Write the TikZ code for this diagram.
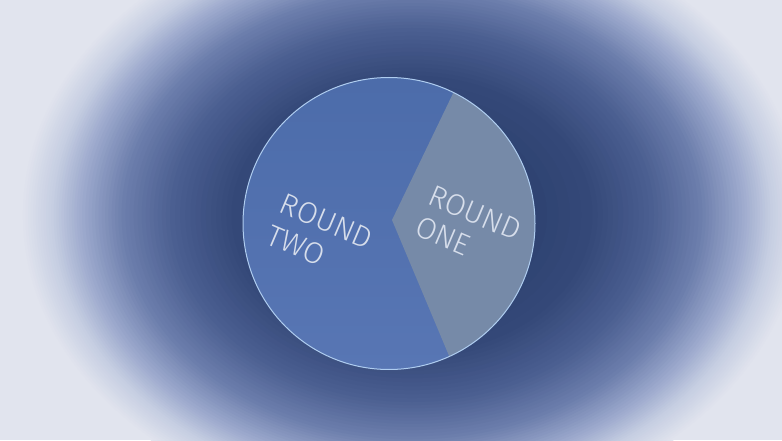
\documentclass[tikz,border=0pt]{standalone}
\usepackage{fontspec}
\usetikzlibrary{calc}
\newfontfamily\roundfont{Fira Sans Light}
\definecolor{bgA}{RGB}{225,228,238}
\definecolor{bgB}{RGB}{198,206,226}
\definecolor{bgC}{RGB}{155,168,204}
\definecolor{bgD}{RGB}{108,126,172}
\definecolor{bgE}{RGB}{75,95,145}
\definecolor{bgF}{RGB}{52,72,120}
\definecolor{bgG}{RGB}{38,58,102}
\definecolor{discblue}{RGB}{76,108,170}
\definecolor{discbluelow}{RGB}{88,118,180}
\definecolor{wedgegray}{RGB}{118,138,168}
\definecolor{rimblue}{RGB}{175,205,240}
\definecolor{labelwhite}{RGB}{215,222,235}
\tikzset{
  roundlabel/.style={inner sep=0pt, anchor=north west, rotate=-23,
    align=left, text=labelwhite,
    font=\roundfont\fontsize{30}{34}\selectfont},
}
\begin{document}
\begin{tikzpicture}[x=1pt,y=1pt]
\useasboundingbox (0,0) rectangle (782,440);
\clip (0,0) rectangle (782,440);
\fill[bgA] (0,0) rectangle (782,440);
\coordinate (bgc) at (412,225);
\foreach \ta/\tb/\ca/\cb in {0.89/0.82/bgA/bgB, 0.82/0.75/bgB/bgC, 0.75/0.66/bgC/bgD, 0.66/0.55/bgD/bgE, 0.55/0.41/bgE/bgF, 0.41/0.10/bgF/bgG}{
  \foreach \k in {0,...,11}{
    \pgfmathsetmacro{\t}{\ta+(\tb-\ta)*\k/12}
    \pgfmathsetmacro{\p}{100*\k/12}
    \fill[\cb!\p!\ca] (bgc) ellipse [x radius=440*\t, y radius=340*\t];
  }
}
\coordinate (c) at (389,216.5);
\coordinate (v) at (392,220);
\shade[top color=discblue, bottom color=discbluelow] (c) circle [radius=146];
\fill[wedgegray] (v) -- ($(c)+(-65.6:146)$) arc[start angle=-65.6, end angle=63.8, radius=146] -- cycle;
\draw[rimblue, line width=1pt] (c) circle [radius=146];
\node[roundlabel] (two) at (286,247.7) {ROUND\\TWO};
\node[roundlabel] (one) at (434.4,256) {ROUND\\ONE};
\end{tikzpicture}
\end{document}
